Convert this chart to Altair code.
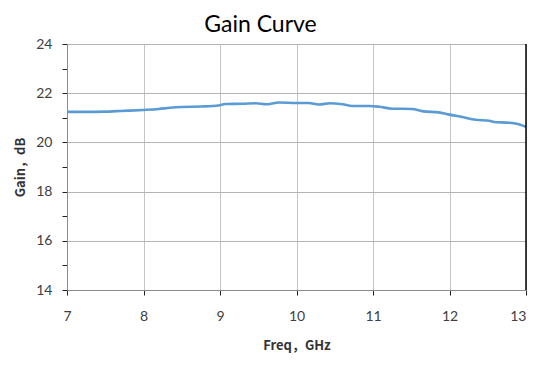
import altair as alt
import pandas as pd

freq = [7.0, 7.25, 7.5, 7.65, 7.8, 8.0, 8.2, 8.35, 8.5, 8.75, 8.98, 9.07, 9.3,
        9.47, 9.6, 9.77, 10.0, 10.16, 10.29, 10.44, 10.6, 10.73, 10.95, 11.08,
        11.25, 11.51, 11.66, 11.86, 11.98, 12.17, 12.34, 12.52, 12.58, 12.78,
        12.89, 12.98, 13.0]
gain = [21.24, 21.24, 21.25, 21.27, 21.29, 21.32, 21.36, 21.41, 21.44, 21.46, 21.50, 21.56, 21.57,
        21.59, 21.55, 21.62, 21.60, 21.60, 21.54, 21.59, 21.55, 21.48, 21.48, 21.45,
        21.37, 21.36, 21.26, 21.22, 21.14, 21.03, 20.92, 20.88, 20.83, 20.80,
        20.75, 20.66, 20.64]

x_ticks = [7 + 0.5 * i for i in range(13)]
y_ticks = list(range(14, 25))

df = pd.DataFrame({"freq": freq, "gain": gain})

FONT = "Lato"
CJK = "Noto Sans CJK SC"

x_axis = alt.Axis(
    values=x_ticks,
    title="Freq，GHz",
    titleFont=CJK, titleFontSize=13, titleFontWeight="bold", titleColor="#333333",
    titlePadding=16,
    labelFont=FONT, labelFontSize=14, labelColor="#404040", labelPadding=14,
    labelExpr="datum.value % 1 === 0 ? format(datum.value, 'd') : ''",
    labelAlign={"condition": {"test": "datum.value === 13", "value": "right"}, "value": "center"},
    labelFlush=False, labelOverlap=False,
    tickSize=5, tickColor="#222222", tickWidth=1,
    domainColor="#8c8c8c", domainWidth=1,
    gridColor="#c4c4c4", gridWidth=1,
    gridOpacity={"condition": {"test": "datum.value % 1 !== 0", "value": 0}, "value": 1},
)
y_axis = alt.Axis(
    values=y_ticks,
    title="Gain，dB",
    titleFont=CJK, titleFontSize=13, titleFontWeight="bold", titleColor="#333333",
    titlePadding=8,
    labelFont=FONT, labelFontSize=14, labelColor="#404040", labelPadding=10,
    labelExpr="datum.value % 2 === 0 ? datum.label : ''",
    labelOverlap=False, labelFlush=False,
    tickSize=5, tickColor="#222222", tickWidth=1,
    domainColor="#8c8c8c", domainWidth=1,
    gridColor="#b4b4b4", gridWidth=1,
    gridOpacity={"condition": {"test": "datum.value % 2 !== 0", "value": 0}, "value": 1},
)

line = alt.Chart(df).mark_line(color="#5b9bd5", strokeWidth=2.6, interpolate="monotone").encode(
    x=alt.X("freq:Q", scale=alt.Scale(domain=[7, 13], nice=False, zero=False), axis=x_axis),
    y=alt.Y("gain:Q", scale=alt.Scale(domain=[14, 24], nice=False, zero=False), axis=y_axis),
)

border = alt.Chart(pd.DataFrame({"x": [13]})).mark_rule(color="#000000", strokeWidth=1.5).encode(
    x=alt.X("x:Q")
)

chart = alt.layer(line, border).properties(
    width=459,
    height=246,
    title=alt.TitleParams(
        "Gain Curve", font=FONT, fontSize=23, fontWeight="normal", color="#000000",
        anchor="middle", dx=-36, offset=0,
    ),
    autosize=alt.AutoSizeParams(type="none"),
    padding={"left": 59, "top": 36, "right": 1, "bottom": 67},
).configure_view(stroke=None)

chart.save("out.html", embed_options={"renderer": "svg", "actions": False})
